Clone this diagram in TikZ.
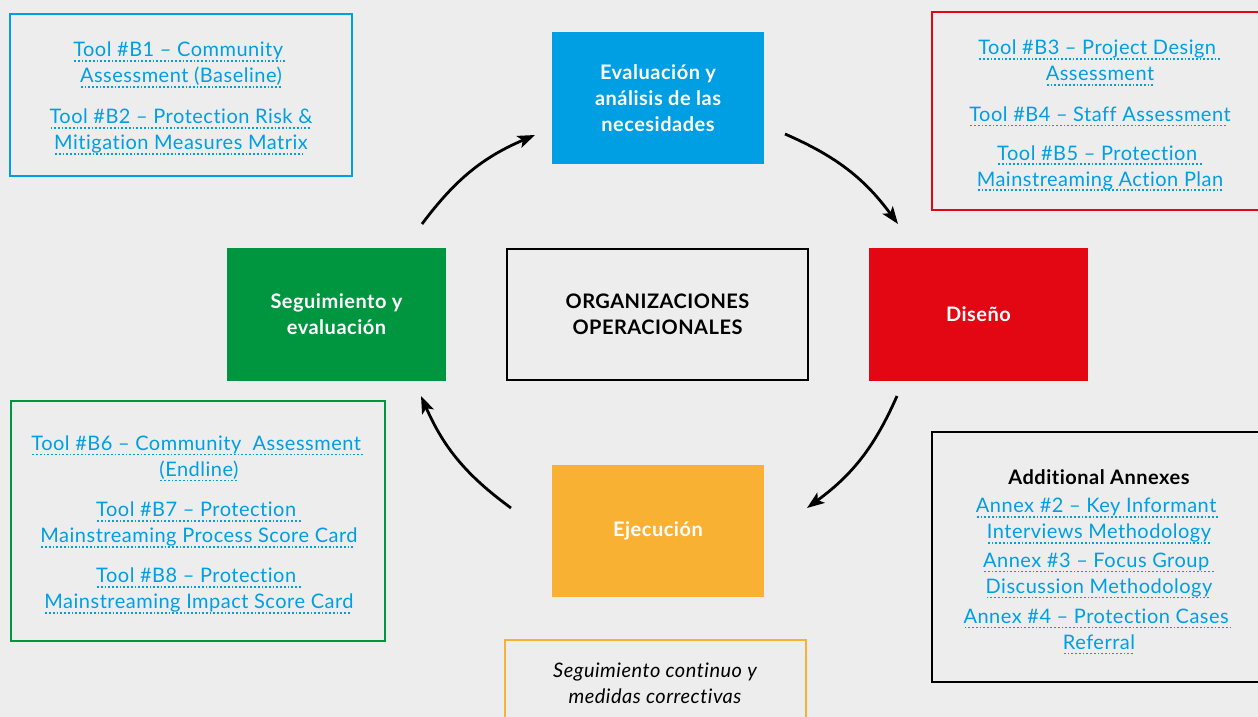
\documentclass[tikz,border=0pt]{standalone}
\usepackage{fontspec}
\setmainfont{Lato}[LetterSpace=2.5, Ligatures=NoCommon]
\usetikzlibrary{arrows.meta}
\definecolor{fondo}{HTML}{EDEDED}
\definecolor{azul}{HTML}{009FE3}
\definecolor{rojo}{HTML}{E30613}
\definecolor{verde}{HTML}{009640}
\definecolor{naranja}{HTML}{F8B133}
\newsavebox\lnkbox
\newcommand{\lnk}[1]{\sbox\lnkbox{#1}\leavevmode\rlap{\raisebox{-3.8pt}[0pt][0pt]{\hbox to \wd\lnkbox{\leaders\hbox to 2.8pt{\hss\rule{1.3pt}{1.3pt}\hss}\hfill}}}\usebox\lnkbox}

\begin{document}
\fontsize{15pt}{19.5pt}\selectfont
\begin{tikzpicture}[x=0.75pt,y=-0.75pt,
  stage/.style={minimum width=159pt, minimum height=99pt, inner sep=0pt, text=white, align=center, font=\bfseries},
  toolbox/.style={draw, line width=2pt, inner sep=0pt},
  tooltext/.style={text=azul, align=center, inner sep=0pt},
  flow/.style={-{Stealth[length=13pt,width=9.5pt,inset=3pt]}, line width=2.1pt, bend left=15}]
  \useasboundingbox (0,0) rectangle (1258,717);
  \fill[fondo] (0,0) rectangle (1258,717);

  \node[stage, fill=azul] (evaluacion) at (658,98.5) {Evaluación y\\análisis de las\\necesidades};
  \node[stage, fill=rojo, minimum width=164.25pt, minimum height=99.75pt] (diseno) at (978.5,314.5) {Diseño};
  \node[stage, fill=naranja] (ejecucion) at (658,531) {Ejecución};
  \node[stage, fill=verde, minimum width=164.25pt, minimum height=99.75pt] (seguimiento) at (336.5,314.5) {Seguimiento y\\evaluación};
  \node[draw, line width=1.9pt, minimum width=225.75pt, minimum height=98.25pt, align=center, font=\bfseries] (centro) at (657.5,314.5) {ORGANIZACIONES\\OPERACIONALES};

  \node[toolbox, draw=azul, minimum width=256.5pt, minimum height=121.5pt] (boxeval) at (181,95) {};
  \node[tooltext] (tb1) at (181,64) {\lnk{Tool \#B1 – Community }\\\lnk{Assessment (Baseline)}};
  \node[tooltext] (tb2) at (181,131) {\lnk{Tool \#B2 – Protection Risk \&}\\\lnk{Mitigation Measures Matrix}};

  \node[toolbox, draw=rojo, minimum width=257.25pt, minimum height=148.5pt] (boxdis) at (1103.5,111) {};
  \node[tooltext] (tb3) at (1100,60.5) {\lnk{Tool \#B3 – Project Design }\\\lnk{Assessment}};
  \node[tooltext] (tb4) at (1100,114) {\lnk{Tool \#B4 – Staff Assessment}};
  \node[tooltext] (tb5) at (1100,167.5) {\lnk{Tool \#B5 – Protection }\\\lnk{Mainstreaming Action Plan}};

  \node[toolbox, draw=verde, minimum width=280.5pt, minimum height=180pt] (boxseg) at (198,521) {};
  \node[tooltext] (tb6) at (199,457.5) {\lnk{Tool \#B6 – Community\ \ Assessment }\\\lnk{(Endline)}};
  \node[tooltext] (tb7) at (199,524) {\lnk{Tool \#B7 – Protection }\\\lnk{Mainstreaming Process Score Card}};
  \node[tooltext] (tb8) at (199,590) {\lnk{Tool \#B8 – Protection }\\\lnk{Mainstreaming Impact Score Card}};

  \node[toolbox, draw=black, minimum width=257.25pt, minimum height=187.5pt] (boxanx) at (1103.5,557) {};
  \node[inner sep=0pt, font=\bfseries] (anexos) at (1099,477) {Additional Annexes};
  \node[tooltext] (an2) at (1099,520) {\lnk{Annex \#2 – Key Informant }\\\lnk{Interviews Methodology}};
  \node[tooltext] (an3) at (1099,575) {\lnk{Annex \#3 – Focus Group }\\\lnk{Discussion Methodology}};
  \node[tooltext] (an4) at (1099,629) {\lnk{Annex \#4 – Protection Cases }\\\lnk{Referral}};

  \node[toolbox, draw=naranja, minimum width=225.75pt, minimum height=75pt] (boxnota) at (655.5,690) {};
  \node[inner sep=0pt, align=center, font=\itshape] (nota) at (655,683) {Seguimiento continuo y\\medidas correctivas};

  \coordinate (a1s) at (422,224);
  \coordinate (a1e) at (535,135);
  \coordinate (a2s) at (785,134);
  \coordinate (a2e) at (898,224);
  \coordinate (a3s) at (897,396);
  \coordinate (a3e) at (807,508);
  \coordinate (a4s) at (511,508);
  \coordinate (a4e) at (421,396);
  \draw[flow] (a1s) to (a1e);
  \draw[flow] (a2s) to (a2e);
  \draw[flow] (a3s) to (a3e);
  \draw[flow] (a4s) to (a4e);
\end{tikzpicture}
\end{document}
